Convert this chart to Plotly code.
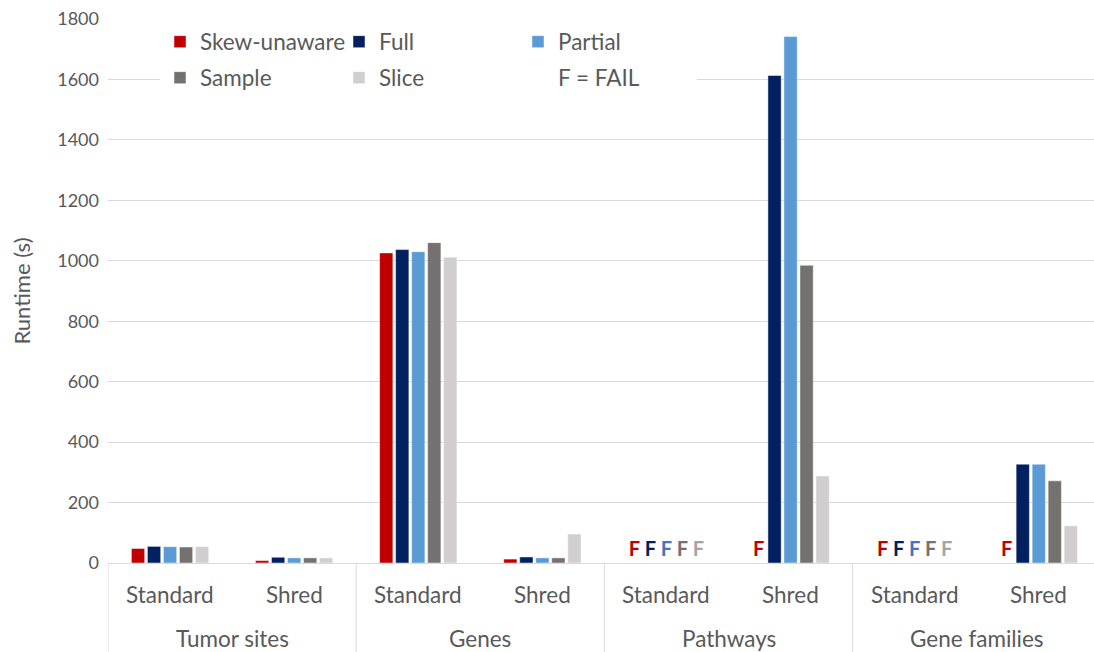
import plotly.graph_objects as go

# Datasets and query variants (two-level category axis)
datasets = ["Tumor sites", "Tumor sites", "Genes", "Genes",
            "Pathways", "Pathways", "Gene families", "Gene families"]
variants = ["Standard", "Shred"] * 4
groups = ["Tumor sites", "Genes", "Pathways", "Gene families"]

# Runtime in seconds; None marks a failed run (drawn as "F")
skew_unaware = [48, 8, 1026, 13, None, None, None, None]
full = [55, 19, 1037, 20, None, 1613, None, 327]
partial = [54, 17, 1030, 17, None, 1742, None, 327]
sample = [53, 17, 1060, 17, None, 985, None, 272]
slice_ = [54, 17, 1012, 96, None, 288, None, 123]

series = [
    ("Skew-unaware", skew_unaware, "#C00000", "#C00000", "legend"),
    ("Full", full, "#002060", "#002060", "legend"),
    ("Partial", partial, "#5B9BD5", "#4472C4", "legend"),
    ("Sample", sample, "#767171", "#767171", "legend2"),
    ("Slice", slice_, "#D0CECE", "#A5A5A5", "legend2"),
]

FONT = "Lato, 'Open Sans', sans-serif"
TXT = "#595959"
GRID = "#D9D9D9"

W, H = 1094, 652
ML, MT, MB = 108, 19, 89
PLOT_H = H - MT - MB

fig = go.Figure()
for name, vals, color, fcolor, leg in series:
    y = [0 if v is None else v for v in vals]
    txt = ["F" if v is None else "" for v in vals]
    fig.add_trace(go.Bar(
        name=name,
        x=[datasets, variants],
        y=y,
        text=txt,
        textposition="outside",
        textangle=0,
        constraintext="none",
        cliponaxis=False,
        textfont=dict(family=FONT, size=20, color=fcolor, weight="bold"),
        marker=dict(color=color, line=dict(color="rgba(255,255,255,0.6)", width=0.8)),
        legend=leg,
        hoverinfo="x+y+name",
    ))

# Text-only legend entry explaining the "F" marks
fig.add_trace(go.Scatter(
    x=[["Tumor sites"], ["Standard"]], y=[None], mode="markers",
    marker=dict(color="rgba(0,0,0,0)", size=1),
    name="F = FAIL", legend="legend2", hoverinfo="skip",
))

# Category labels: variant row and dataset row below the axis
annotations = []
for i, v in enumerate(variants):
    annotations.append(dict(
        x=i, xref="x", y=-31 / PLOT_H, yref="paper",
        text=v, showarrow=False, xanchor="center", yanchor="middle",
        font=dict(family=FONT, size=22.5, color=TXT),
    ))
for g, name in enumerate(groups):
    annotations.append(dict(
        x=2 * g + 0.5, xref="x", y=-75 / PLOT_H, yref="paper",
        text=name, showarrow=False, xanchor="center", yanchor="middle",
        font=dict(family=FONT, size=22.5, color=TXT),
    ))

# Vertical dividers between dataset groups
shapes = []
for g in range(len(groups) + 1):
    shapes.append(dict(
        type="line", xref="x", yref="paper",
        x0=2 * g - 0.5, x1=2 * g - 0.5, y0=0, y1=-MB / PLOT_H,
        line=dict(color=GRID, width=1),
    ))

legend_common = dict(
    orientation="h",
    xref="container", yref="container",
    xanchor="left", yanchor="middle",
    bgcolor="white",
    font=dict(family=FONT, size=22.5, color=TXT),
    entrywidth=134, entrywidthmode="pixels",
    itemwidth=30,
    traceorder="normal",
)

fig.update_layout(
    width=W, height=H,
    margin=dict(l=ML, r=0, t=MT, b=MB, autoexpand=False),
    paper_bgcolor="white", plot_bgcolor="white",
    font=dict(family=FONT, color=TXT),
    barmode="group",
    bargap=0.355,
    bargroupgap=0.17,
    legend=dict(x=160 / W, y=1 - 42 / H, **legend_common),
    legend2=dict(x=160 / W, y=1 - 78 / H, **legend_common),
    annotations=annotations,
    shapes=shapes,
    xaxis=dict(
        type="multicategory",
        range=[-0.5, 7.445],
        showline=True, linecolor=GRID, linewidth=1,
        showdividers=False,
        showticklabels=False,
        showgrid=False,
        ticks="",
    ),
    yaxis=dict(
        range=[0, 1800],
        dtick=200,
        showgrid=True, gridcolor=GRID, gridwidth=1,
        zeroline=False,
        showline=False,
        tickfont=dict(family=FONT, size=18, color=TXT),
        ticklabelstandoff=8,
        title=dict(text="Runtime (s)", font=dict(family=FONT, size=22, color=TXT), standoff=20),
    ),
)

fig.write_html("out.html")
